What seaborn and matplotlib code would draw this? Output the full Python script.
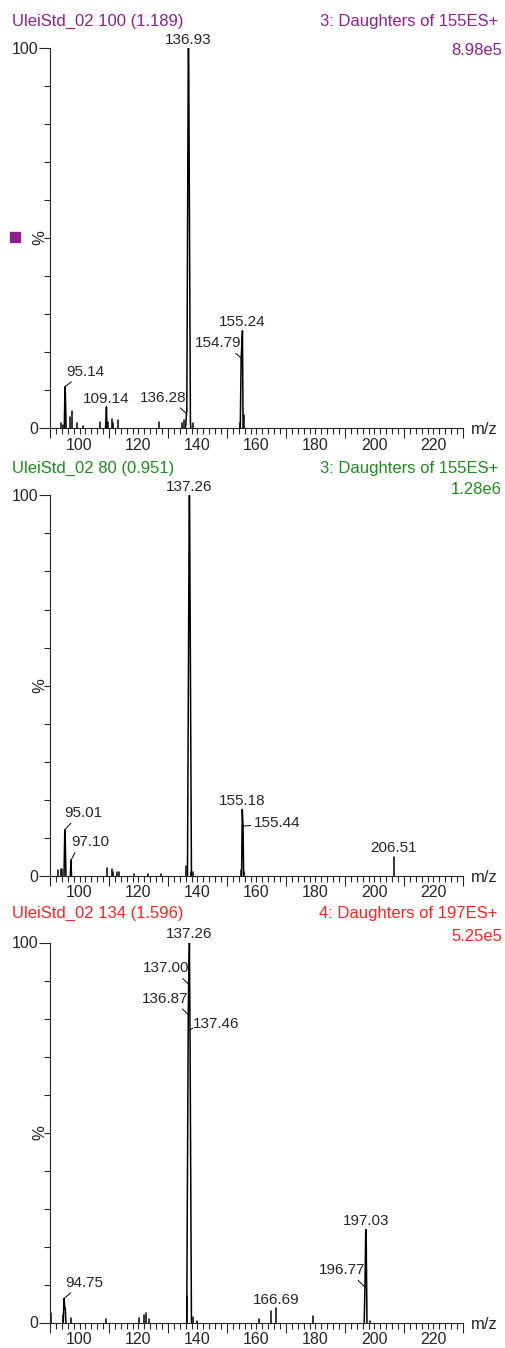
"""
Espectros MS/MS (tres barridos) estilo MassLynx
"""

import numpy as np
import pandas as pd
import matplotlib
matplotlib.use("Agg")
import matplotlib.pyplot as plt
from matplotlib.patches import Rectangle
from matplotlib.ticker import FixedLocator, MultipleLocator, FuncFormatter
import seaborn as sns

# ---------------- datos (m/z, % intensidad relativa) ----------------
# Barrido 100 (1.189) - hijas de 155
sticks1_mz = [93.8, 94.4, 96.8, 97.3, 99.3, 101.1, 106.8, 109.6, 111.1, 111.5,
              113.0, 127.1, 134.9, 135.4, 138.4, 154.3, 155.6]
sticks1_int = [1.2, 0.8, 3.0, 4.5, 1.3, 0.5, 1.7, 1.5, 2.4, 1.2,
               2.1, 1.7, 1.3, 2.0, 1.3, 1.3, 3.5]
prof1_mz = [[94.85, 95.0, 95.14, 95.3, 95.45],
            [108.85, 109.0, 109.14, 109.3],
            [135.95, 136.28, 136.38, 136.86, 136.93, 137.02, 137.6, 137.75],
            [154.5, 154.79, 155.0, 155.24, 155.45]]
prof1_int = [[0, 7.5, 10.9, 6.0, 0],
             [0, 3.0, 5.6, 0],
             [0, 3.8, 4.5, 97, 100, 97, 1.5, 0],
             [0, 18.4, 21.5, 25.6, 0]]
labels1 = [136.93, 155.24, 154.79, 95.14, 109.14, 136.28]

# Barrido 80 (0.951) - hijas de 155
sticks2_mz = [92.6, 93.6, 94.1, 109.2, 111.1, 111.5, 112.8, 113.4, 118.6, 123.2,
              127.5, 136.2, 137.9, 138.6, 154.8, 155.8, 206.51]
sticks2_int = [1.5, 1.8, 1.8, 2.0, 1.8, 1.0, 1.0, 1.0, 0.5, 0.5,
               0.5, 2.4, 1.0, 0.8, 1.5, 1.0, 5.0]
prof2_mz = [[94.75, 95.01, 95.2, 95.4],
            [96.9, 97.10, 97.3],
            [136.6, 137.19, 137.26, 137.33, 137.95],
            [154.95, 155.18, 155.44, 155.65]]
prof2_int = [[0, 12.0, 8.4, 0],
             [0, 4.0, 0],
             [0, 97, 100, 97, 0],
             [0, 17.4, 13.0, 0]]
labels2 = [137.26, 95.01, 97.10, 155.18, 155.44, 206.51]

# Barrido 134 (1.596) - hijas de 197
sticks3_mz = [90.3, 94.3, 97.2, 109.0, 120.3, 122.0, 122.7, 123.7, 136.3, 138.6,
              140.0, 161.0, 165.0, 166.69, 179.1, 198.5]
sticks3_int = [2.6, 2.0, 1.3, 1.0, 1.2, 2.0, 2.6, 1.0, 7.0, 1.5,
               0.5, 1.0, 2.9, 3.9, 1.8, 0.5]
prof3_mz = [[94.5, 94.75, 95.0, 95.2, 95.4],
            [136.35, 136.87, 137.00, 137.26, 137.46, 137.95],
            [196.5, 196.77, 197.03, 197.2, 197.45]]
prof3_int = [[0, 6.3, 4.0, 3.7, 0],
             [0, 81, 89, 100, 77, 0],
             [0, 9.3, 24.5, 21.0, 0]]
labels3 = [137.26, 137.00, 136.87, 137.46, 94.75, 166.69, 197.03, 196.77]

titles_left = ["UleiStd_02 100 (1.189)", "UleiStd_02 80 (0.951)", "UleiStd_02 134 (1.596)"]
titles_right = ["3: Daughters of 155ES+", "3: Daughters of 155ES+", "4: Daughters of 197ES+"]
tic_values = ["8.98e5", "1.28e6", "5.25e5"]
xtick_labels = [100, 120, 140, 160, 180, 200, 220]

# ---------------- estilo / disposicion ----------------
colors = ["#8e1f8e", "#1e8c1e", "#ff2020"]
# (dx, dy en pixeles, alineacion, relpos de la linea guia o None)
styles1 = [(0, 1, 'center', None), (0, 2, 'center', None), (-23, 8, 'center', (0.8, 0)),
           (20, 8, 'center', (0.25, 0)), (0, 1, 'center', None), (-23, 9, 'center', (0.78, 0))]
styles2 = [(0, 1, 'center', None), (19, 10, 'center', (0.24, 0)), (19, 11, 'center', (0.15, 0)),
           (0, 1, 'center', None), (11, -4, 'left', (0, 0.35)), (0, 2, 'center', None)]
styles3 = [(0, 1, 'center', None), (-23, 9, 'center', (0.8, 0)), (-23, 9, 'center', (0.8, 0)),
           (3, -1, 'left', (0, 0.2)), (20, 9, 'center', (0.25, 0)), (0, 1, 'center', None),
           (0, 1, 'center', None), (-23, 10, 'center', (0.78, 0))]

W, H = 506, 1348
AX_LEFT, AX_WIDTH, AX_HEIGHT = 50, 413, 380
ax_bottoms = [428, 875.5, 1322.5]
title_base = [(26, 55), (473, 494), (918, 941)]

sns.set_style("ticks")
plt.rcParams['font.family'] = ['Liberation Sans', 'DejaVu Sans']


def build_table(s_mz, s_int, p_mz, p_int):
    rows = []
    seg = 0
    for m, i in zip(s_mz, s_int):
        rows.append((seg, m, 0.0))
        rows.append((seg, m, i))
        seg += 1
    for pm, pi in zip(p_mz, p_int):
        for m, i in zip(pm, pi):
            rows.append((seg, m, i))
        seg += 1
    return pd.DataFrame(rows, columns=['seg', 'mz', 'pct'])


def setup_axes(ax):
    ax.set_xlim(90, 230)
    ax.set_ylim(0, 100)
    ax.set_xlabel('')
    ax.set_ylabel('')
    for s in ['top', 'right']:
        ax.spines[s].set_visible(False)
    for s in ['left', 'bottom']:
        ax.spines[s].set_linewidth(0.8)
    major = np.arange(90, 231, 10)
    ax.xaxis.set_major_locator(FixedLocator(major))
    ax.xaxis.set_major_formatter(FuncFormatter(
        lambda v, p: f"{v:.0f}" if int(round(v)) in xtick_labels else ''))
    ax.xaxis.set_minor_locator(MultipleLocator(2))
    ax.tick_params(axis='x', which='both', length=4, width=0.8, labelsize=11.5, pad=3)
    for t, v in zip(ax.xaxis.get_major_ticks(), major):
        if (int(v) // 10) % 2 == 1:
            t.tick1line.set_markersize(7)
    ax.yaxis.set_major_locator(FixedLocator([0, 100]))
    ax.yaxis.set_minor_locator(FixedLocator(np.arange(10, 100, 10)))
    ax.tick_params(axis='y', which='major', length=8, width=0.8, labelsize=11.5, pad=0.5)
    ax.tick_params(axis='y', which='minor', length=4, width=0.8)
    ax.text(-10 / AX_WIDTH, 0.5, '%', rotation=90, transform=ax.transAxes,
            ha='center', va='center', fontsize=12)
    ax.text(1 + 8 / AX_WIDTH, -2 / AX_HEIGHT, 'm/z', transform=ax.transAxes,
            ha='left', va='center', fontsize=12)


def label_peaks(ax, df, lab_mz, lab_styles):
    for m, (dx, dy, ha, rel) in zip(lab_mz, lab_styles):
        top = df.loc[(df['mz'] - m).abs() < 0.005, 'pct'].max()
        kw = {}
        if rel is not None:
            kw['arrowprops'] = dict(arrowstyle='-', lw=0.7, color='black',
                                    shrinkA=0, shrinkB=0, relpos=rel)
        ax.annotate(f"{m:.2f}", xy=(m, top), xytext=(dx, dy), textcoords='offset pixels',
                    ha=ha, va='bottom', fontsize=11, annotation_clip=False, **kw)


fig = plt.figure(figsize=(W / 100, H / 100), dpi=100)

panels = [
    (sticks1_mz, sticks1_int, prof1_mz, prof1_int, labels1, styles1),
    (sticks2_mz, sticks2_int, prof2_mz, prof2_int, labels2, styles2),
    (sticks3_mz, sticks3_int, prof3_mz, prof3_int, labels3, styles3),
]

for k, (s_mz, s_int, p_mz, p_int, labs, stys) in enumerate(panels):
    ax = fig.add_axes([AX_LEFT / W, 1 - ax_bottoms[k] / H, AX_WIDTH / W, AX_HEIGHT / H])
    df = build_table(s_mz, s_int, p_mz, p_int)
    sns.lineplot(data=df, x='mz', y='pct', units='seg', estimator=None, sort=False,
                 color='black', lw=1.1, ax=ax)
    setup_axes(ax)
    label_peaks(ax, df, labs, stys)

    c = colors[k]
    b1, b2 = title_base[k]
    fig.text(12 / W, 1 - b1 / H, titles_left[k], color=c, fontsize=12, ha='left', va='baseline')
    fig.text(498 / W, 1 - b1 / H, titles_right[k], color=c, fontsize=12, ha='right', va='baseline')
    fig.text(502 / W, 1 - b2 / H, tic_values[k], color=c, fontsize=12, ha='right', va='baseline')

# marcador del primer espectro
fig.patches.append(Rectangle((10 / W, 1 - 242 / H), 10 / W, 10 / H,
                             transform=fig.transFigure, color=colors[0]))

fig.savefig('out.png', dpi=100)
plt.close(fig)
